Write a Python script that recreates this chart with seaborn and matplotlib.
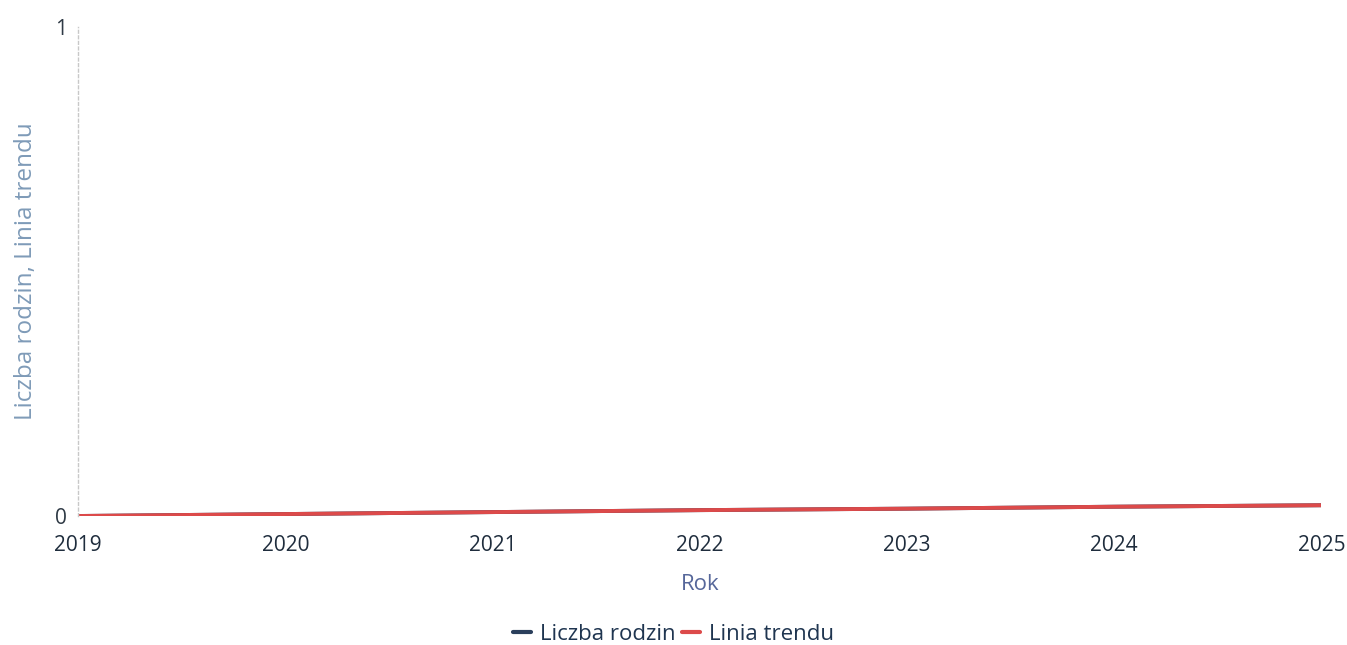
import pandas as pd
import seaborn as sns
import matplotlib.pyplot as plt

# Dane
lata = [2019, 2020, 2021, 2022, 2023, 2024, 2025]
liczba_rodzin = [0.0, 0.004, 0.008, 0.012, 0.015, 0.019, 0.022]
linia_trendu = [0.0, 0.004, 0.008, 0.012, 0.015, 0.019, 0.022]

df = pd.DataFrame({
    "Rok": lata * 2,
    "Wartosc": liczba_rodzin + linia_trendu,
    "Seria": ["Liczba rodzin"] * len(lata) + ["Linia trendu"] * len(lata),
})

sns.set_theme(style="white")
plt.rcParams["font.family"] = ["Open Sans", "DejaVu Sans"]

fig = plt.figure(figsize=(13.47, 6.45), dpi=100)
ax = fig.add_axes([0.058, 0.2, 0.923, 0.758])

sns.lineplot(data=df, x="Rok", y="Wartosc", hue="Seria",
             palette={"Liczba rodzin": "#2b3f5c", "Linia trendu": "#dc4a4a"},
             linewidth=2.8, ax=ax, legend=False)

ax.set_xlim(2019, 2025)
ax.set_ylim(0, 1)
ax.set_yticks([0, 1])
ax.set_yticklabels(["0", "1"], fontsize=15, color="#2f3a45")
ax.set_xticks(lata)
ax.set_xticklabels([str(r) for r in lata], fontsize=15, color="#1f2d3d")
ax.tick_params(axis="both", length=0)
ax.tick_params(axis="x", pad=14)
ax.tick_params(axis="y", pad=8)

for s in ["top", "right", "bottom"]:
    ax.spines[s].set_visible(False)
ax.spines["left"].set_color("#c8c8c8")
ax.spines["left"].set_linestyle((0, (2, 2)))
ax.spines["left"].set_linewidth(1)

ax.set_xlabel("Rok", fontsize=16, color="#56679a", labelpad=13)
ax.set_ylabel("Liczba rodzin, Linia trendu", fontsize=17.5, color="#7f9bb8", labelpad=12)

handles = [plt.Line2D([], [], color="#2b3f5c", lw=3),
           plt.Line2D([], [], color="#dc4a4a", lw=3)]
fig.legend(handles, ["Liczba rodzin", "Linia trendu"], loc="center",
           bbox_to_anchor=(0.5, 0.016), ncol=2, frameon=False, fontsize=16,
           handlelength=0.8, handletextpad=0.4, columnspacing=0.3,
           labelcolor="#1f3550")

fig.savefig("out.png", dpi=100)
